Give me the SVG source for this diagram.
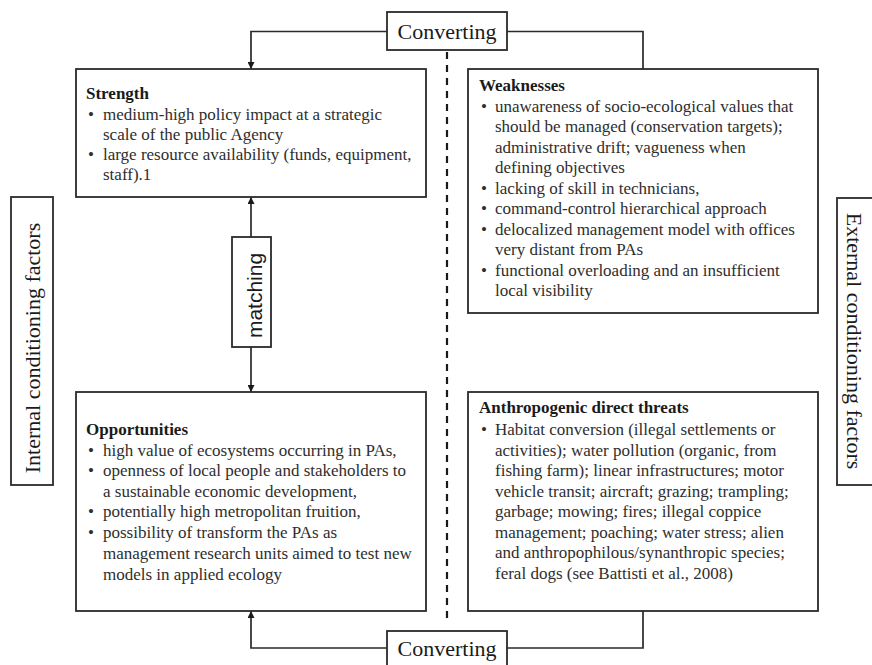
<svg xmlns="http://www.w3.org/2000/svg" width="872" height="665" viewBox="0 0 872 665">
  <style>
    .box { fill: #ffffff; stroke: #2a2a2a; stroke-width: 1.8; }
    .wire { fill: none; stroke: #2a2a2a; stroke-width: 1.7; }
    .dash { fill: none; stroke: #1a1a1a; stroke-width: 2.2; stroke-dasharray: 7 6; }
    .t { font-family: "Liberation Serif", "Times New Roman", serif; font-size: 17px; fill: #2e2e2e; }
    .h { font-family: "Liberation Serif", "Times New Roman", serif; font-size: 17px; font-weight: bold; fill: #1a1a1a; }
    .big { font-family: "Liberation Serif", "Times New Roman", serif; font-size: 22px; fill: #1a1a1a; }
    .sans { font-family: "Liberation Sans", Arial, sans-serif; font-size: 21px; fill: #1a1a1a; }
  </style>
  <defs>
    <marker id="arrow" viewBox="0 0 10 10" refX="10" refY="5" markerWidth="7" markerHeight="7" orient="auto-start-reverse" markerUnits="userSpaceOnUse">
      <path d="M0,0 L10,5 L0,10 z" fill="#1a1a1a"/>
    </marker>
  </defs>
  <rect width="872" height="665" fill="#ffffff"/>

  <!-- connectors -->
  <g id="connectors">
    <line class="dash" x1="447" y1="52" x2="447" y2="622"/>
    <polyline class="wire" points="387,31.5 251,31.5 251,69" marker-end="url(#arrow)"/>
    <polyline class="wire" points="507,31.5 643,31.5 643,69"/>
    <polyline class="wire" points="387,648 251,648 251,611" marker-end="url(#arrow)"/>
    <polyline class="wire" points="507,648 643,648 643,611"/>
    <line class="wire" x1="251" y1="237" x2="251" y2="197" marker-end="url(#arrow)"/>
    <line class="wire" x1="251" y1="347" x2="251" y2="392" marker-end="url(#arrow)"/>
  </g>

  <g id="converting-top">
    <rect class="box" x="387" y="12" width="120" height="38"/>
    <text class="big" x="447" y="38.5" text-anchor="middle">Converting</text>
  </g>

  <g id="converting-bottom">
    <rect class="box" x="387" y="631" width="120" height="40"/>
    <text class="big" x="447" y="656" text-anchor="middle">Converting</text>
  </g>

  <g id="strength">
    <rect class="box" x="76" y="69" width="350" height="128"/>
    <text class="h" x="86" y="98.5">Strength</text>
    <text class="t" x="88" y="119.5">•</text>
    <text class="t" x="103" y="119.5">medium-high policy impact at a strategic</text>
    <text class="t" x="103" y="139.5">scale of the public Agency</text>
    <text class="t" x="88" y="160">•</text>
    <text class="t" x="103" y="160">large resource availability (funds, equipment,</text>
    <text class="t" x="103" y="180">staff).1</text>
  </g>

  <g id="weaknesses">
    <rect class="box" x="468" y="69" width="350" height="244"/>
    <text class="h" x="479" y="91">Weaknesses</text>
    <text class="t" x="481" y="111.5">•</text>
    <text class="t" x="495" y="111.5">unawareness of socio-ecological values that</text>
    <text class="t" x="495" y="132">should be managed (conservation targets);</text>
    <text class="t" x="495" y="152.5">administrative drift; vagueness when</text>
    <text class="t" x="495" y="173">defining objectives</text>
    <text class="t" x="481" y="193.5">•</text>
    <text class="t" x="495" y="193.5">lacking of skill in technicians,</text>
    <text class="t" x="481" y="214">•</text>
    <text class="t" x="495" y="214">command-control hierarchical approach</text>
    <text class="t" x="481" y="234.5">•</text>
    <text class="t" x="495" y="234.5">delocalized management model with offices</text>
    <text class="t" x="495" y="255">very distant from PAs</text>
    <text class="t" x="481" y="275.5">•</text>
    <text class="t" x="495" y="275.5">functional overloading and an insufficient</text>
    <text class="t" x="495" y="296">local visibility</text>
  </g>

  <g id="opportunities">
    <rect class="box" x="76" y="392" width="350" height="219"/>
    <text class="h" x="86" y="435">Opportunities</text>
    <text class="t" x="88" y="455.5">•</text>
    <text class="t" x="103" y="455.5">high value of ecosystems occurring in PAs,</text>
    <text class="t" x="88" y="476">•</text>
    <text class="t" x="103" y="476">openness of local people and stakeholders to</text>
    <text class="t" x="103" y="496.5">a sustainable economic development,</text>
    <text class="t" x="88" y="517">•</text>
    <text class="t" x="103" y="517">potentially high metropolitan fruition,</text>
    <text class="t" x="88" y="538">•</text>
    <text class="t" x="103" y="538">possibility of transform the PAs as</text>
    <text class="t" x="103" y="559">management research units aimed to test new</text>
    <text class="t" x="103" y="580">models in applied ecology</text>
  </g>

  <g id="threats">
    <rect class="box" x="468" y="392" width="350" height="219"/>
    <text class="h" x="479" y="413">Anthropogenic direct threats</text>
    <text class="t" x="481" y="435">•</text>
    <text class="t" x="495" y="435">Habitat conversion (illegal settlements or</text>
    <text class="t" x="495" y="455.5">activities); water pollution (organic, from</text>
    <text class="t" x="495" y="476">fishing farm); linear infrastructures; motor</text>
    <text class="t" x="495" y="496.5">vehicle transit; aircraft; grazing; trampling;</text>
    <text class="t" x="495" y="517">garbage; mowing; fires; illegal coppice</text>
    <text class="t" x="495" y="537.5">management; poaching; water stress; alien</text>
    <text class="t" x="495" y="558">and anthropophilous/synanthropic species;</text>
    <text class="t" x="495" y="578.5">feral dogs (see Battisti et al., 2008)</text>
  </g>

  <g id="matching">
    <rect class="box" x="232" y="237" width="39" height="110"/>
    <text class="sans" transform="translate(262,295.5) rotate(-90)" text-anchor="middle">matching</text>
  </g>

  <g id="internal-factors">
    <rect class="box" x="11" y="197" width="42" height="288"/>
    <text class="big" transform="translate(40,348) rotate(-90)" text-anchor="middle">Internal conditioning factors</text>
  </g>

  <g id="external-factors">
    <rect class="box" x="837" y="198" width="42" height="287"/>
    <text class="big" transform="translate(847,341) rotate(90)" text-anchor="middle">External conditioning factors</text>
  </g>
</svg>
